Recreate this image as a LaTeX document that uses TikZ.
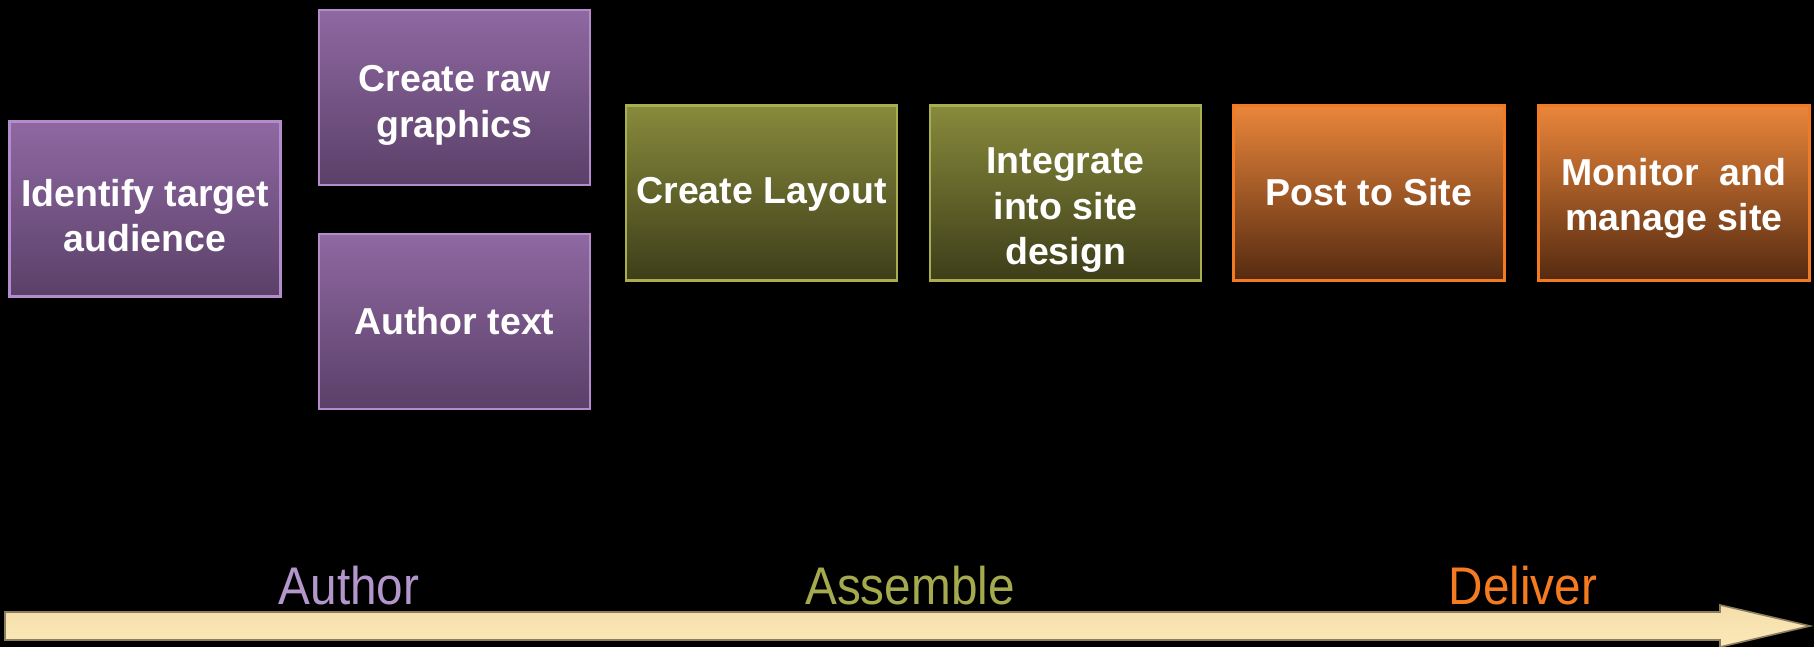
\documentclass[tikz,border=0pt]{standalone}
\usepackage{fontspec}
\setmainfont{Liberation Sans}
\definecolor{purpletop}{HTML}{8F68A2}
\definecolor{purplebot}{HTML}{5A4068}
\definecolor{purpleedge}{HTML}{B48BCB}
\definecolor{olivetop}{HTML}{888A3C}
\definecolor{olivebot}{HTML}{3D3E19}
\definecolor{oliveedge}{HTML}{A9AF4F}
\definecolor{orangetop}{HTML}{EA863B}
\definecolor{orangebot}{HTML}{552A10}
\definecolor{orangeedge}{HTML}{F27A22}
\definecolor{arrowtop}{HTML}{F4DFAB}
\definecolor{arrowmid}{HTML}{FDEDC7}
\definecolor{arrowbot}{HTML}{FCE8B8}
\definecolor{arrowedge}{HTML}{8C7D5E}
\definecolor{authorcol}{HTML}{B396CB}
\definecolor{assemblecol}{HTML}{A5AA4F}
\definecolor{delivercol}{HTML}{F47B20}
% #1 = position of the last baseline relative to the box centre, #2 = lines
\newcommand\boxlines[2]{\raisebox{#1}[0pt][0pt]{\begin{tabular}[b]{@{}c@{}}#2\end{tabular}}}
\begin{document}
\begin{tikzpicture}[x=0.5pt,y=0.5pt]
\tikzset{
  box/.style={minimum width=135.5pt, minimum height=87.5pt, inner sep=0pt,
    line width=1.1pt, align=center, text=white,
    font=\fontsize{18.75}{22.75}\selectfont\bfseries},
  purplebox/.style={box, draw=purpleedge, top color=purpletop, bottom color=purplebot},
  olivebox/.style={box, draw=oliveedge, top color=olivetop, bottom color=olivebot},
  orangebox/.style={box, draw=orangeedge, top color=orangetop, bottom color=orangebot},
  phase/.style={anchor=base, font=\fontsize{26.5}{30}\selectfont, inner sep=0pt}
}
\fill[black] (0,0) rectangle (1814,647);
\useasboundingbox (0,0) rectangle (1814,647);

\node[purplebox] (identify) at (145,438) {\boxlines{-21.5pt}{Identify target\\audience}};
\node[purplebox] (raw) at (454.5,549.5) {\boxlines{-20pt}{Create raw\\graphics}};
\node[purplebox] (text) at (454.5,325.5) {\boxlines{-6.5pt}{Author text}};
\node[olivebox] (layout) at (761.5,454) {\boxlines{-5.25pt}{Create Layout}};
\node[olivebox] (integrate) at (1065.5,454) {\boxlines{-36pt}{Integrate\\into site\\design}};
\node[orangebox] (post) at (1369,454) {\boxlines{-6.5pt}{Post to Site}};
\node[orangebox] (monitor) at (1674,454) {\boxlines{-19pt}{Monitor~ and\\manage site}};

\node[phase, text=authorcol] (author) at (349,42) {\scalebox{0.9}[1]{Author}};
\node[phase, text=assemblecol] (assemble) at (910,42) {\scalebox{0.9}[1]{Assemble}};
\node[phase, text=delivercol] (deliver) at (1523,42) {\scalebox{0.9}[1]{Deliver}};

\draw[draw=arrowedge, line width=0.8pt, top color=arrowtop, middle color=arrowmid, bottom color=arrowbot]
  (5,35) -- (1720,35) -- (1720,42) -- (1810,21) -- (1720,0) -- (1720,7) -- (5,7) -- cycle;
\end{tikzpicture}
\end{document}
